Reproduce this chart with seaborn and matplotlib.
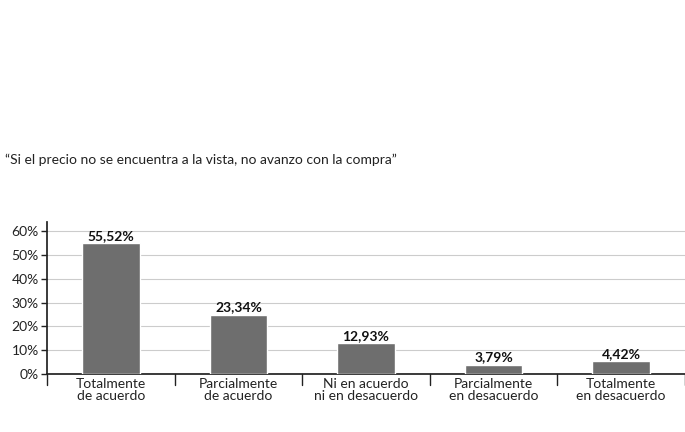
import matplotlib.pyplot as plt
import seaborn as sns
import numpy as np

sns.set_theme(style="white")
plt.rcParams['font.family'] = ['Lato', 'DejaVu Sans']

categories = ["Totalmente\nde acuerdo", "Parcialmente\nde acuerdo", "Ni en acuerdo\nni en desacuerdo",
              "Parcialmente\nen desacuerdo", "Totalmente\nen desacuerdo"]
heights = [55.0, 24.8, 13.0, 3.8, 5.4]
labels = ["55,52%", "23,34%", "12,93%", "3,79%", "4,42%"]

fig = plt.figure(figsize=(6.85, 4.32), dpi=100)
ax = fig.add_axes([0.0686, 0.1343, 0.9314, 0.352])

x = np.arange(len(categories))
sns.barplot(x=x, y=heights, color="#6e6e6e", width=0.45, saturation=1, ax=ax, zorder=3)
ax.set_xlim(-0.5, len(categories) - 0.5)
ax.set_ylim(0, 63.9)
ax.set_yticks(range(0, 61, 10))
ax.set_yticklabels([f"{v}%" for v in range(0, 61, 10)], fontsize=10, color="#222")
ax.yaxis.grid(True, color="#cccccc", linewidth=0.8, zorder=0)

for i, (h, t) in enumerate(zip(heights, labels)):
    ax.text(i, h + 0.6, t, ha="center", va="bottom", fontsize=10, fontweight="bold", color="#111")

ax.set_xticks(x)
ax.set_xticklabels(categories, fontsize=10, color="#222", linespacing=1.0)
ax.tick_params(axis="x", length=0, pad=3)
for b in np.arange(-0.5, len(categories), 1.0):
    ax.plot([b, b], [0, -0.07], transform=ax.get_xaxis_transform(), color="#222", lw=1, clip_on=False)
ax.tick_params(axis="y", length=4, width=1, left=True, color="#222", pad=2)

for s in ["top", "right"]:
    ax.spines[s].set_visible(False)
ax.spines["left"].set_color("#222")
ax.spines["bottom"].set_color("#222")

fig.text(0.007, 1 - 160 / 432, "\u201cSi el precio no se encuentra a la vista, no avanzo con la compra\u201d",
         fontsize=10, color="#222", va="center", ha="left")

fig.savefig("out.png", dpi=100)
